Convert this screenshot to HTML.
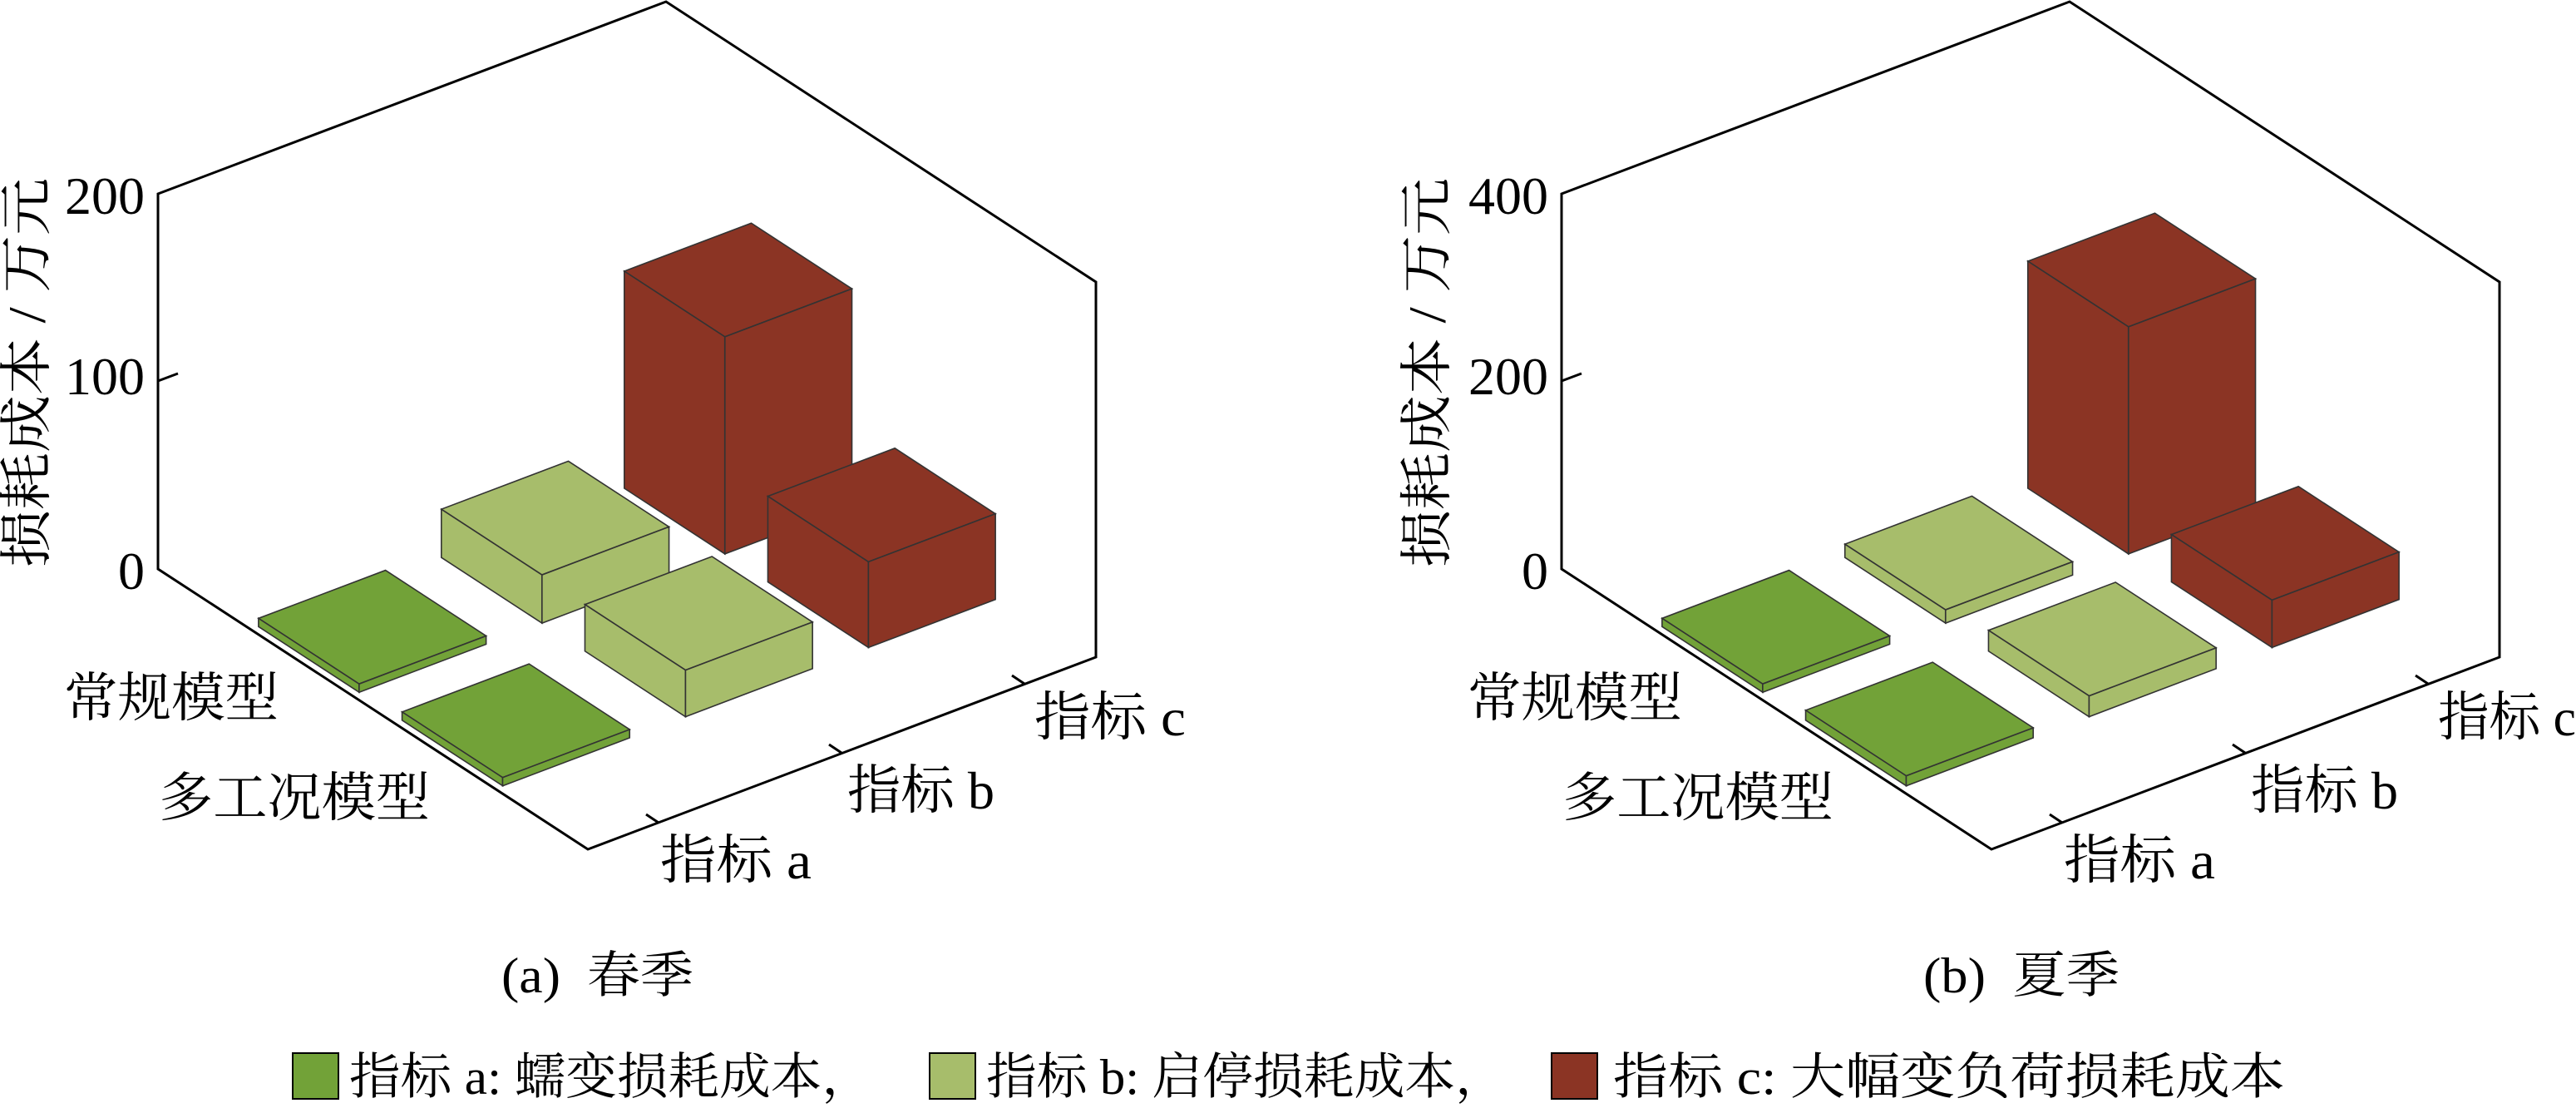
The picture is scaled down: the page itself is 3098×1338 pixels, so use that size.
<!DOCTYPE html>
<html><head><meta charset="utf-8">
<style>
html,body{margin:0;padding:0;background:#fff;}
svg{display:block;}
text{font-family:"Liberation Serif","Noto Serif CJK SC","Noto Sans CJK SC",serif;fill:#000;}
.o{fill:none;stroke:#000;stroke-width:3;}
.f{stroke:#333;stroke-width:1.6;vector-effect:non-scaling-stroke;}
.r{fill:#8b3424;}
.g{fill:#72a238;}
.l{fill:#a7bd6b;}
</style></head>
<body>
<svg width="3098" height="1338" viewBox="0 0 3098 1338" xmlns="http://www.w3.org/2000/svg">

<!-- ============ LEFT CHART ============ -->
<polygon class="o" points="190,233 801,2 1318,339 1318,790 707,1021 190,684"/>
<line x1="190" y1="458" x2="214" y2="449" stroke="#000" stroke-width="3"/>
<line x1="792" y1="989" x2="777" y2="979" stroke="#000" stroke-width="3"/>
<line x1="1012" y1="905" x2="997" y2="895" stroke="#000" stroke-width="3"/>
<line x1="1232" y1="822" x2="1217" y2="812" stroke="#000" stroke-width="3"/>

<g>
<rect class="f r" x="0.216" y="0.735" width="0.234" height="0.25" transform="matrix(517 337 611 -231 190 423)"/>
<rect class="f r" x="0.216" y="0" width="0.234" height="261" transform="matrix(517 337 0 -1 639.1 514.2)"/>
<rect class="f r" x="0.735" y="0" width="0.25" height="261" transform="matrix(611 -231 0 -1 422.7 835.7)"/>
</g>
<g>
<rect class="f r" x="0.55" y="0.735" width="0.234" height="0.25" transform="matrix(517 337 611 -231 190 581)"/>
<rect class="f r" x="0.55" y="0" width="0.234" height="103" transform="matrix(517 337 0 -1 639.1 514.2)"/>
<rect class="f r" x="0.735" y="0" width="0.25" height="103" transform="matrix(611 -231 0 -1 595.3 948.2)"/>
</g>
<g>
<rect class="f l" x="0.216" y="0.375" width="0.234" height="0.25" transform="matrix(517 337 611 -231 190 626)"/>
<rect class="f l" x="0.216" y="0" width="0.234" height="58" transform="matrix(517 337 0 -1 419.1 597.4)"/>
<rect class="f l" x="0.375" y="0" width="0.25" height="58" transform="matrix(611 -231 0 -1 422.7 835.7)"/>
</g>
<g>
<rect class="f l" x="0.55" y="0.375" width="0.234" height="0.25" transform="matrix(517 337 611 -231 190 628)"/>
<rect class="f l" x="0.55" y="0" width="0.234" height="56" transform="matrix(517 337 0 -1 419.1 597.4)"/>
<rect class="f l" x="0.375" y="0" width="0.25" height="56" transform="matrix(611 -231 0 -1 595.3 948.2)"/>
</g>
<g>
<rect class="f g" x="0.216" y="0.015" width="0.234" height="0.25" transform="matrix(517 337 611 -231 190 674)"/>
<rect class="f g" x="0.216" y="0" width="0.234" height="10" transform="matrix(517 337 0 -1 199.2 680.5)"/>
<rect class="f g" x="0.015" y="0" width="0.25" height="10" transform="matrix(611 -231 0 -1 422.7 835.7)"/>
</g>
<g>
<rect class="f g" x="0.55" y="0.015" width="0.234" height="0.25" transform="matrix(517 337 611 -231 190 674)"/>
<rect class="f g" x="0.55" y="0" width="0.234" height="10" transform="matrix(517 337 0 -1 199.2 680.5)"/>
<rect class="f g" x="0.015" y="0" width="0.25" height="10" transform="matrix(611 -231 0 -1 595.3 948.2)"/>
</g>

<text x="174" y="257" font-size="64" text-anchor="end">200</text>
<text x="174" y="474" font-size="64" text-anchor="end">100</text>
<text x="174" y="708" font-size="64" text-anchor="end">0</text>
<text transform="translate(54,448) rotate(-90)" font-size="64" text-anchor="middle" textLength="468" lengthAdjust="spacingAndGlyphs">损耗成本 / 万元</text>
<text x="77" y="861" font-size="64" textLength="258" lengthAdjust="spacingAndGlyphs">常规模型</text>
<text x="191" y="981" font-size="64" textLength="326" lengthAdjust="spacingAndGlyphs">多工况模型</text>
<text x="794" y="1056" font-size="64" textLength="182" lengthAdjust="spacingAndGlyphs">指标 a</text>
<text x="1019" y="972" font-size="64" textLength="177" lengthAdjust="spacingAndGlyphs">指标 b</text>
<text x="1244" y="884" font-size="64" textLength="182" lengthAdjust="spacingAndGlyphs">指标 c</text>
<text x="603" y="1193" font-size="60" textLength="231" lengthAdjust="spacingAndGlyphs" xml:space="preserve">(a)  春季</text>

<!-- ============ RIGHT CHART ============ -->
<polygon class="o" points="1878,233 2489,2 3006,339 3006,790 2395,1021 1878,684"/>
<line x1="1878" y1="458" x2="1902" y2="449" stroke="#000" stroke-width="3"/>
<line x1="2480" y1="989" x2="2465" y2="979" stroke="#000" stroke-width="3"/>
<line x1="2700" y1="905" x2="2685" y2="895" stroke="#000" stroke-width="3"/>
<line x1="2920" y1="822" x2="2905" y2="812" stroke="#000" stroke-width="3"/>

<g>
<rect class="f r" x="0.216" y="0.735" width="0.234" height="0.25" transform="matrix(517 337 611 -231 1878 411)"/>
<rect class="f r" x="0.216" y="0" width="0.234" height="273" transform="matrix(517 337 0 -1 2327.1 514.2)"/>
<rect class="f r" x="0.735" y="0" width="0.25" height="273" transform="matrix(611 -231 0 -1 2110.7 835.7)"/>
</g>
<g>
<rect class="f r" x="0.55" y="0.735" width="0.234" height="0.25" transform="matrix(517 337 611 -231 1878 627)"/>
<rect class="f r" x="0.55" y="0" width="0.234" height="57" transform="matrix(517 337 0 -1 2327.1 514.2)"/>
<rect class="f r" x="0.735" y="0" width="0.25" height="57" transform="matrix(611 -231 0 -1 2283.3 948.2)"/>
</g>
<g>
<rect class="f l" x="0.216" y="0.375" width="0.234" height="0.25" transform="matrix(517 337 611 -231 1878 668)"/>
<rect class="f l" x="0.216" y="0" width="0.234" height="16" transform="matrix(517 337 0 -1 2107.1 597.4)"/>
<rect class="f l" x="0.375" y="0" width="0.25" height="16" transform="matrix(611 -231 0 -1 2110.7 835.7)"/>
</g>
<g>
<rect class="f l" x="0.55" y="0.375" width="0.234" height="0.25" transform="matrix(517 337 611 -231 1878 659)"/>
<rect class="f l" x="0.55" y="0" width="0.234" height="25" transform="matrix(517 337 0 -1 2107.1 597.4)"/>
<rect class="f l" x="0.375" y="0" width="0.25" height="25" transform="matrix(611 -231 0 -1 2283.3 948.2)"/>
</g>
<g>
<rect class="f g" x="0.216" y="0.015" width="0.234" height="0.25" transform="matrix(517 337 611 -231 1878 674)"/>
<rect class="f g" x="0.216" y="0" width="0.234" height="10" transform="matrix(517 337 0 -1 1887.2 680.5)"/>
<rect class="f g" x="0.015" y="0" width="0.25" height="10" transform="matrix(611 -231 0 -1 2110.7 835.7)"/>
</g>
<g>
<rect class="f g" x="0.55" y="0.015" width="0.234" height="0.25" transform="matrix(517 337 611 -231 1878 672)"/>
<rect class="f g" x="0.55" y="0" width="0.234" height="12" transform="matrix(517 337 0 -1 1887.2 680.5)"/>
<rect class="f g" x="0.015" y="0" width="0.25" height="12" transform="matrix(611 -231 0 -1 2283.3 948.2)"/>
</g>

<text x="1862" y="257" font-size="64" text-anchor="end">400</text>
<text x="1862" y="474" font-size="64" text-anchor="end">200</text>
<text x="1862" y="708" font-size="64" text-anchor="end">0</text>
<text transform="translate(1738,448) rotate(-90)" font-size="64" text-anchor="middle" textLength="468" lengthAdjust="spacingAndGlyphs">损耗成本 / 万元</text>
<text x="1765" y="861" font-size="64" textLength="258" lengthAdjust="spacingAndGlyphs">常规模型</text>
<text x="1879" y="981" font-size="64" textLength="326" lengthAdjust="spacingAndGlyphs">多工况模型</text>
<text x="2482" y="1056" font-size="64" textLength="182" lengthAdjust="spacingAndGlyphs">指标 a</text>
<text x="2707" y="972" font-size="64" textLength="177" lengthAdjust="spacingAndGlyphs">指标 b</text>
<text x="2932" y="884" font-size="64" textLength="166" lengthAdjust="spacingAndGlyphs">指标 c</text>
<text x="2313" y="1193" font-size="60" textLength="236" lengthAdjust="spacingAndGlyphs" xml:space="preserve">(b)  夏季</text>

<!-- ============ LEGEND ============ -->
<rect x="352" y="1266" width="55" height="55" fill="#72a238" stroke="#000" stroke-width="2"/>
<text x="420" y="1315" font-size="60" textLength="630" lengthAdjust="spacingAndGlyphs">指标 a: 蠕变损耗成本，</text>
<rect x="1118" y="1266" width="55" height="55" fill="#a7bd6b" stroke="#000" stroke-width="2"/>
<text x="1186" y="1315" font-size="60" textLength="625" lengthAdjust="spacingAndGlyphs">指标 b: 启停损耗成本，</text>
<rect x="1866" y="1266" width="55" height="55" fill="#8b3424" stroke="#000" stroke-width="2"/>
<text x="1940" y="1315" font-size="60" textLength="808" lengthAdjust="spacingAndGlyphs">指标 c: 大幅变负荷损耗成本</text>
</svg>
</body></html>
